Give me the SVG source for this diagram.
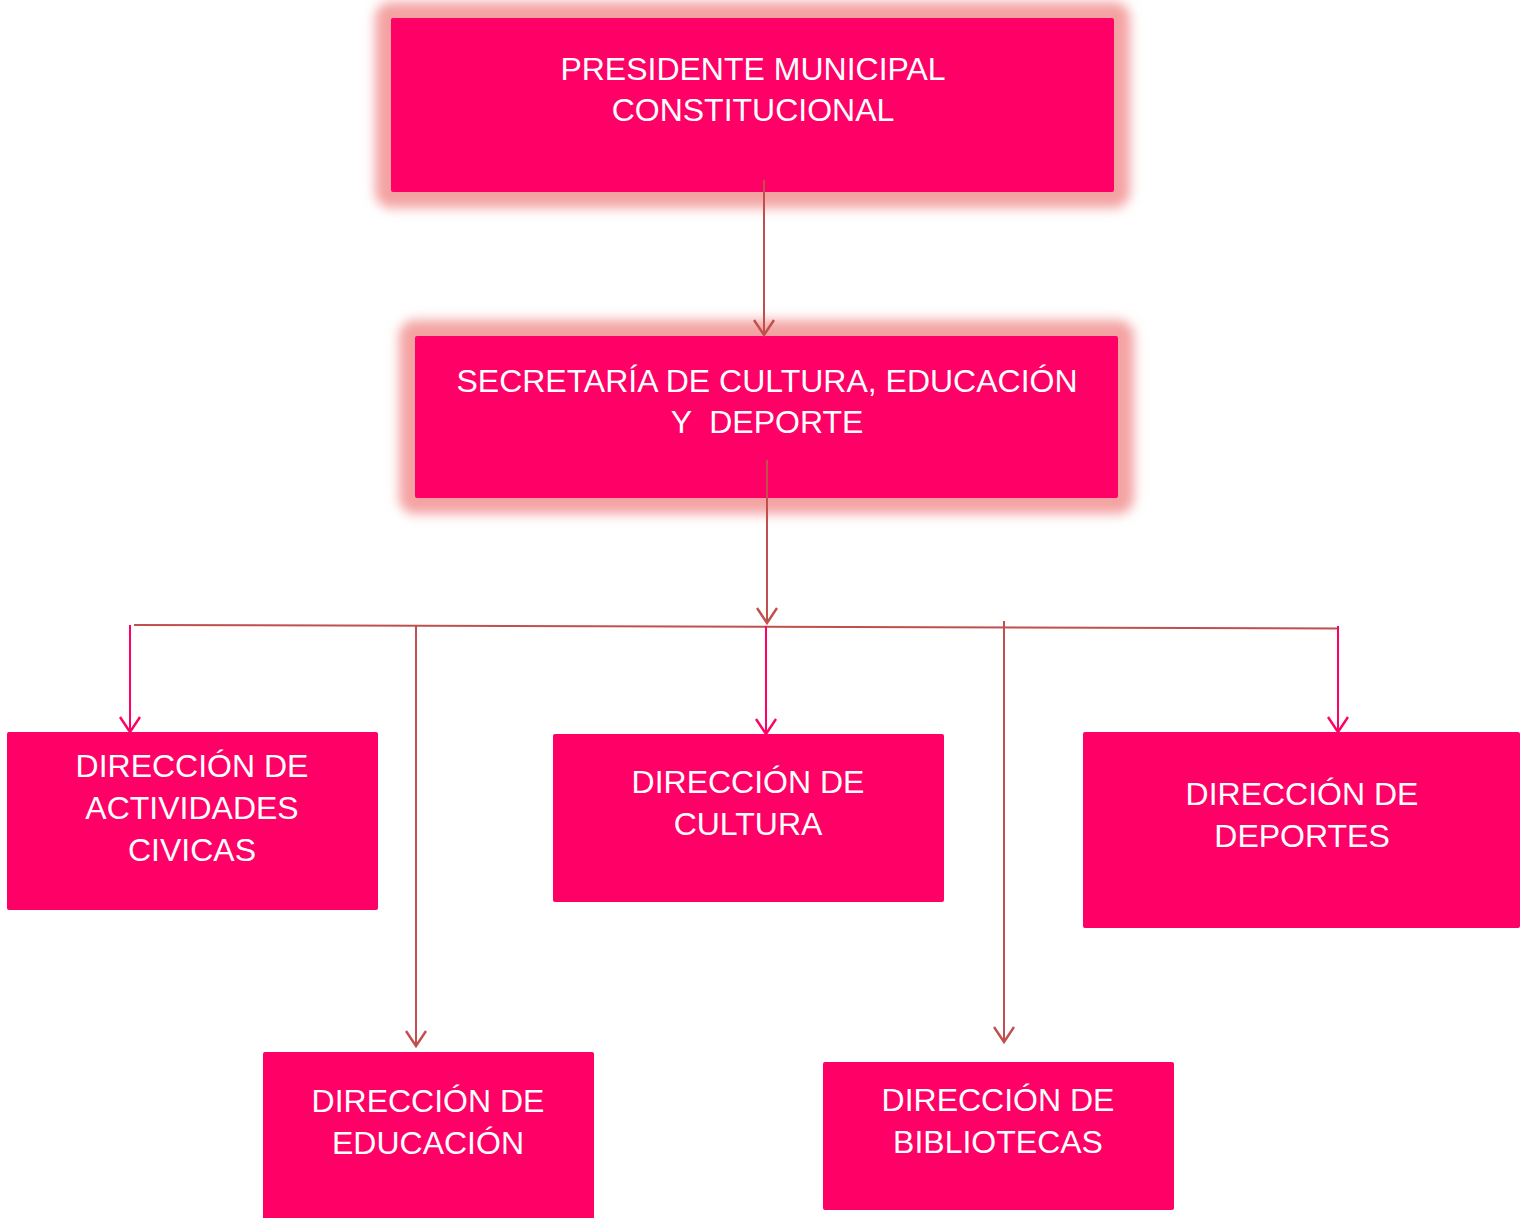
<svg xmlns="http://www.w3.org/2000/svg" width="1528" height="1218" viewBox="0 0 1528 1218">
<style>
.box{fill:#ff0066;}
.glow{fill:#f4a2a2;filter:url(#blur);}
.lbl{font-family:"Liberation Sans",Arial,sans-serif;font-size:32px;fill:#ffffff;text-anchor:middle;}
.br{stroke:#c0504d;stroke-width:2;fill:none;}
.pk{stroke:#ff0066;stroke-width:2;fill:none;}
</style>
<defs>
<filter id="blur" x="-20%" y="-40%" width="140%" height="180%"><feGaussianBlur stdDeviation="6"/></filter>
<marker id="ab" markerUnits="userSpaceOnUse" orient="auto" refX="0" refY="0" viewBox="-16 -12 18 24" markerWidth="18" markerHeight="24" overflow="visible">
<path d="M-15,-10 L0,0 L-15,10" fill="none" stroke="#c0504d" stroke-width="2.4"/>
</marker>
<marker id="ap" markerUnits="userSpaceOnUse" orient="auto" refX="0" refY="0" viewBox="-16 -12 18 24" markerWidth="18" markerHeight="24" overflow="visible">
<path d="M-15,-10 L0,0 L-15,10" fill="none" stroke="#ff0066" stroke-width="2.4"/>
</marker>
</defs>
<rect width="1528" height="1218" fill="#ffffff"/>

<g id="presidente">
<rect class="glow" x="375" y="2" width="755" height="206" rx="16"/>
<rect class="box" x="391" y="18" width="723" height="174" rx="2"/>
<text class="lbl" x="753" y="80">PRESIDENTE MUNICIPAL</text>
<text class="lbl" x="753" y="121">CONSTITUCIONAL</text>
</g>

<g id="secretaria">
<rect class="glow" x="399" y="320" width="735" height="194" rx="16"/>
<rect class="box" x="415" y="336" width="703" height="162" rx="2"/>
<text class="lbl" x="767" y="392">SECRETARÍA DE CULTURA, EDUCACIÓN</text>
<text class="lbl" x="767" y="433" xml:space="preserve">Y  DEPORTE</text>
</g>

<g id="connectors">
<line class="br" x1="764" y1="180" x2="764" y2="335" marker-end="url(#ab)"/>
<line class="br" x1="767" y1="460" x2="767" y2="623" marker-end="url(#ab)"/>
<line class="br" x1="134" y1="625" x2="1338" y2="628.5"/>
<line class="pk" x1="130" y1="625" x2="130" y2="732" marker-end="url(#ap)"/>
<line class="pk" x1="766" y1="626" x2="766" y2="734" marker-end="url(#ap)"/>
<line class="pk" x1="1338" y1="626" x2="1338" y2="732" marker-end="url(#ap)"/>
<line class="br" x1="416" y1="626" x2="416" y2="1046" marker-end="url(#ab)"/>
<line class="br" x1="1004" y1="621" x2="1004" y2="1042" marker-end="url(#ab)"/>
</g>

<g id="actividades">
<rect class="box" x="7" y="732" width="371" height="178" rx="2"/>
<text class="lbl" x="192" y="777">DIRECCIÓN DE</text>
<text class="lbl" x="192" y="819">ACTIVIDADES</text>
<text class="lbl" x="192" y="861">CIVICAS</text>
</g>

<g id="cultura">
<rect class="box" x="553" y="734" width="391" height="168" rx="2"/>
<text class="lbl" x="748" y="793">DIRECCIÓN DE</text>
<text class="lbl" x="748" y="835">CULTURA</text>
</g>

<g id="deportes">
<rect class="box" x="1083" y="732" width="437" height="196" rx="2"/>
<text class="lbl" x="1302" y="805">DIRECCIÓN DE</text>
<text class="lbl" x="1302" y="847">DEPORTES</text>
</g>

<g id="educacion">
<rect class="box" x="263" y="1052" width="331" height="170" rx="2"/>
<text class="lbl" x="428" y="1112">DIRECCIÓN DE</text>
<text class="lbl" x="428" y="1154">EDUCACIÓN</text>
</g>

<g id="bibliotecas">
<rect class="box" x="823" y="1062" width="351" height="148" rx="2"/>
<text class="lbl" x="998" y="1111">DIRECCIÓN DE</text>
<text class="lbl" x="998" y="1153">BIBLIOTECAS</text>
</g>
</svg>
